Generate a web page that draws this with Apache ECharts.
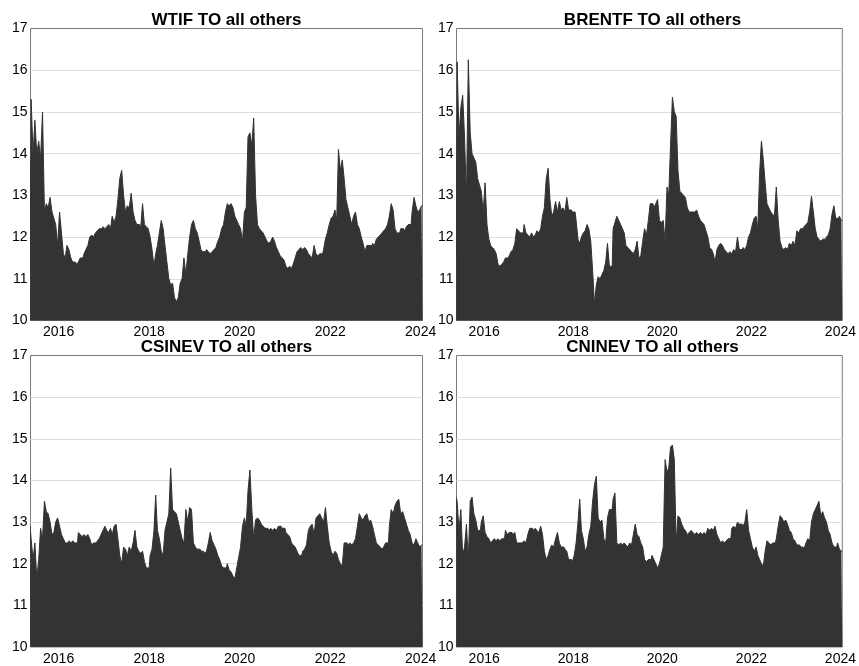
<!DOCTYPE html>
<html><head><meta charset="utf-8">
<script src="https://cdn.jsdelivr.net/npm/echarts@6/dist/echarts.min.js"></script>
<style>html,body{margin:0;padding:0;background:#fff}#c{width:859px;height:666px}</style>
</head><body><div id="c"></div>
<script>
// Semi-monthly observation dates (shared by all four panels)
const dates = [
'2015-05-16','2015-06-01','2015-06-16','2015-07-01','2015-07-16','2015-08-01','2015-08-16','2015-09-01','2015-09-16','2015-10-01','2015-10-16','2015-11-01','2015-11-16','2015-12-01','2015-12-16',
'2016-01-01','2016-01-16','2016-02-01','2016-02-16','2016-03-01','2016-03-16','2016-04-01','2016-04-16','2016-05-01','2016-05-16','2016-06-01','2016-06-16','2016-07-01','2016-07-16','2016-08-01','2016-08-16','2016-09-01','2016-09-16','2016-10-01','2016-10-16','2016-11-01','2016-11-16','2016-12-01','2016-12-16',
'2017-01-01','2017-01-16','2017-02-01','2017-02-16','2017-03-01','2017-03-16','2017-04-01','2017-04-16','2017-05-01','2017-05-16','2017-06-01','2017-06-16','2017-07-01','2017-07-16','2017-08-01','2017-08-16','2017-09-01','2017-09-16','2017-10-01','2017-10-16','2017-11-01','2017-11-16','2017-12-01','2017-12-16',
'2018-01-01','2018-01-16','2018-02-01','2018-02-16','2018-03-01','2018-03-16','2018-04-01','2018-04-16','2018-05-01','2018-05-16','2018-06-01','2018-06-16','2018-07-01','2018-07-16','2018-08-01','2018-08-16','2018-09-01','2018-09-16','2018-10-01','2018-10-16','2018-11-01','2018-11-16','2018-12-01','2018-12-16',
'2019-01-01','2019-01-16','2019-02-01','2019-02-16','2019-03-01','2019-03-16','2019-04-01','2019-04-16','2019-05-01','2019-05-16','2019-06-01','2019-06-16','2019-07-01','2019-07-16','2019-08-01','2019-08-16','2019-09-01','2019-09-16','2019-10-01','2019-10-16','2019-11-01','2019-11-16','2019-12-01','2019-12-16',
'2020-01-01','2020-01-16','2020-02-01','2020-02-16','2020-03-01','2020-03-16','2020-04-01','2020-04-16','2020-05-01','2020-05-16','2020-06-01','2020-06-16','2020-07-01','2020-07-16','2020-08-01','2020-08-16','2020-09-01','2020-09-16','2020-10-01','2020-10-16','2020-11-01','2020-11-16','2020-12-01','2020-12-16',
'2021-01-01','2021-01-16','2021-02-01','2021-02-16','2021-03-01','2021-03-16','2021-04-01','2021-04-16','2021-05-01','2021-05-16','2021-06-01','2021-06-16','2021-07-01','2021-07-16','2021-08-01','2021-08-16','2021-09-01','2021-09-16','2021-10-01','2021-10-16','2021-11-01','2021-11-16','2021-12-01','2021-12-16',
'2022-01-01','2022-01-16','2022-02-01','2022-02-16','2022-03-01','2022-03-16','2022-04-01','2022-04-16','2022-05-01','2022-05-16','2022-06-01','2022-06-16','2022-07-01','2022-07-16','2022-08-01','2022-08-16','2022-09-01','2022-09-16','2022-10-01','2022-10-16','2022-11-01','2022-11-16','2022-12-01','2022-12-16',
'2023-01-01','2023-01-16','2023-02-01','2023-02-16','2023-03-01','2023-03-16','2023-04-01','2023-04-16','2023-05-01','2023-05-16','2023-06-01','2023-06-16','2023-07-01','2023-07-16','2023-08-01','2023-08-16','2023-09-01','2023-09-16','2023-10-01','2023-10-16','2023-11-01','2023-11-16','2023-12-01','2023-12-16',
'2024-01-01','2024-01-16'
];

const wtifTo = [
11.3,15.3,14.0,14.8,14.0,14.3,13.9,15.0,12.6,12.8,12.7,12.95,12.6,12.45,12.3,
11.8,12.6,12.1,11.6,11.5,11.8,11.7,11.5,11.4,11.4,11.35,11.4,11.5,11.5,11.6,11.7,11.8,12.0,12.05,12.0,12.1,12.15,12.2,12.2,
12.25,12.2,12.25,12.3,12.2,12.5,12.35,12.5,12.9,13.4,13.6,13.0,12.6,12.75,12.7,13.05,12.6,12.4,12.3,12.3,12.2,12.8,12.3,12.25,
12.2,12.0,11.7,11.3,11.6,11.8,12.1,12.4,12.2,11.8,11.4,11.0,10.85,10.9,10.55,10.45,10.55,10.9,11.0,11.5,11.1,11.6,12.0,12.3,
12.4,12.2,12.1,11.9,11.7,11.65,11.65,11.7,11.65,11.6,11.65,11.7,11.75,11.9,12.0,12.2,12.3,12.6,12.8,12.75,12.8,12.7,12.5,12.4,
12.3,12.2,11.9,12.6,12.7,14.4,14.5,14.2,14.85,13.0,12.3,12.2,12.15,12.1,12.0,11.9,11.85,11.9,12.0,11.9,11.75,11.65,11.55,11.5,
11.45,11.3,11.25,11.3,11.25,11.35,11.5,11.65,11.7,11.75,11.7,11.75,11.7,11.6,11.55,11.5,11.8,11.6,11.55,11.6,11.6,11.7,11.95,12.1,
12.3,12.45,12.5,12.65,12.4,14.1,13.6,13.85,13.4,12.9,12.7,12.5,12.3,12.5,12.6,12.3,12.2,12.0,11.85,11.65,11.8,11.8,11.8,11.85,
11.8,11.95,12.0,12.05,12.1,12.15,12.2,12.3,12.5,12.8,12.65,12.2,12.1,12.1,12.2,12.2,12.15,12.25,12.3,12.3,12.6,12.95,12.75,12.6,
12.65,12.75
];

const brentfTo = [
11.5,16.2,14.4,15.1,15.4,14.4,12.9,16.25,14.5,14.0,13.9,13.8,13.4,13.25,13.1,
12.6,13.3,12.3,11.95,11.8,11.75,11.7,11.6,11.35,11.3,11.35,11.4,11.5,11.5,11.55,11.65,11.7,11.85,12.2,12.15,12.1,12.1,12.3,12.1,
12.05,12.0,12.1,12.0,12.05,12.15,12.1,12.2,12.5,12.7,13.4,13.65,12.9,12.5,12.6,12.85,12.6,12.85,12.65,12.7,12.6,12.95,12.65,12.65,
12.6,12.6,12.4,11.95,11.85,12.0,12.1,12.15,12.3,12.2,11.9,11.2,10.4,10.85,11.05,11.0,11.1,11.2,11.4,11.85,11.3,11.3,12.2,12.35,
12.5,12.4,12.3,12.2,12.1,11.8,11.75,11.7,11.65,11.6,11.7,11.9,11.5,11.55,11.9,12.2,12.05,12.4,12.8,12.8,12.7,12.8,12.9,12.4,
12.35,12.4,11.9,13.2,13.0,14.2,15.35,15.0,14.9,13.6,13.1,13.05,13.0,12.95,12.7,12.6,12.6,12.6,12.6,12.65,12.5,12.4,12.35,12.3,
12.15,12.0,11.75,11.7,11.6,11.4,11.7,11.8,11.85,11.8,11.7,11.65,11.6,11.65,11.6,11.7,11.65,12.0,11.7,11.7,11.75,11.7,11.8,12.0,
12.1,12.3,12.45,12.5,12.2,13.5,14.3,13.85,13.3,12.8,12.7,12.6,12.55,12.5,13.2,12.4,11.9,11.75,11.7,11.75,11.7,11.85,11.8,11.9,
11.8,12.15,12.1,12.2,12.2,12.25,12.3,12.35,12.6,12.98,12.6,12.2,12.0,11.95,11.9,11.95,11.95,12.0,12.05,12.2,12.55,12.75,12.45,12.45,
12.5,12.4
];

const csinevTo = [
12.9,12.6,12.1,12.5,11.65,12.1,12.85,12.6,13.5,13.25,13.2,13.0,12.7,12.75,13.0,
13.1,12.9,12.7,12.6,12.5,12.5,12.55,12.5,12.55,12.5,12.5,12.75,12.7,12.65,12.7,12.65,12.7,12.6,12.45,12.5,12.5,12.55,12.6,12.7,
12.8,12.9,12.8,12.75,12.85,12.7,12.9,12.95,12.6,12.2,12.0,12.4,12.35,12.2,12.4,12.3,12.5,12.8,12.4,12.3,12.25,12.3,12.05,11.9,
11.9,12.2,12.35,12.8,13.65,12.8,12.6,12.3,12.2,12.8,13.0,13.2,14.3,13.3,13.25,13.2,13.0,12.8,12.6,12.5,13.3,13.0,13.35,13.3,
12.5,12.4,12.35,12.35,12.3,12.3,12.25,12.3,12.5,12.75,12.55,12.45,12.35,12.2,12.1,11.95,11.9,11.9,12.0,11.85,11.8,11.7,11.65,11.9,
12.15,12.4,12.9,13.1,12.9,13.75,14.25,13.3,12.6,13.05,13.1,13.05,12.95,12.9,12.85,12.85,12.8,12.85,12.8,12.85,12.8,12.9,12.9,12.85,
12.85,12.75,12.7,12.65,12.5,12.45,12.4,12.3,12.2,12.2,12.3,12.35,12.45,12.8,12.9,12.95,12.7,13.1,13.15,13.2,13.1,13.0,13.35,12.9,
12.5,12.3,12.2,12.3,12.25,12.1,12.0,11.95,12.5,12.5,12.45,12.5,12.45,12.5,12.6,12.9,13.2,13.1,13.05,13.15,13.2,13.0,13.05,12.9,
12.7,12.5,12.45,12.4,12.35,12.4,12.5,12.5,12.9,13.3,13.2,13.4,13.5,13.55,13.2,13.25,13.1,12.95,12.8,12.7,12.5,12.45,12.6,12.5,
12.4,12.45
];

const cninevTo = [
13.6,13.5,12.8,13.3,12.2,12.4,12.95,12.1,13.5,13.6,13.2,13.05,12.8,12.8,13.0,
13.15,12.75,12.65,12.6,12.5,12.55,12.6,12.55,12.6,12.55,12.6,12.6,12.8,12.7,12.75,12.75,12.7,12.75,12.5,12.5,12.5,12.5,12.55,12.5,
12.7,12.85,12.85,12.8,12.85,12.8,12.75,12.9,12.7,12.3,12.1,12.2,12.35,12.45,12.4,12.6,12.75,12.5,12.4,12.4,12.35,12.3,12.1,12.1,
12.05,12.2,12.5,13.0,13.55,12.8,12.6,12.3,12.4,12.7,12.9,13.5,13.9,14.1,13.1,13.0,13.05,12.6,12.5,13.1,13.3,13.3,13.55,13.7,
12.5,12.45,12.5,12.45,12.5,12.45,12.4,12.5,12.45,12.7,12.95,12.7,12.65,12.5,12.4,12.1,12.05,12.1,12.1,12.2,12.1,12.0,11.9,12.0,
12.2,12.4,14.5,14.2,14.3,14.8,14.85,14.5,12.5,13.15,13.1,12.95,12.85,12.8,12.7,12.75,12.8,12.75,12.7,12.75,12.7,12.75,12.7,12.75,
12.7,12.85,12.8,12.85,12.8,12.9,12.7,12.6,12.5,12.55,12.5,12.55,12.6,12.6,12.85,12.9,12.85,13.0,12.95,12.95,12.9,13.0,13.3,12.8,
12.6,12.4,12.3,12.4,12.2,12.1,12.0,11.95,12.3,12.55,12.5,12.45,12.5,12.5,12.6,12.9,13.15,13.1,13.0,13.05,12.95,12.8,12.75,12.6,
12.55,12.45,12.45,12.4,12.4,12.35,12.5,12.6,12.55,13.0,13.2,13.3,13.4,13.5,13.15,13.25,13.1,13.0,12.8,12.7,12.5,12.4,12.4,12.5,
12.35,12.3
];

const panelTitles = ['WTIF TO all others', 'BRENTF TO all others', 'CSINEV TO all others', 'CNINEV TO all others'];
const panelValues = [wtifTo, brentfTo, csinevTo, cninevTo];
const yearTickLabels = ['2016', '2018', '2020', '2022', '2024'];
const axisStart = '2015-05-19';
const axisEnd = '2024-01-16';

const FONT = '"Liberation Sans", Arial, sans-serif';
const chart = echarts.init(document.getElementById('c'), null, { renderer: 'canvas' });

const grids = [
  { left: 30.5, top: 28.5, width: 392, height: 292 },
  { left: 456.5, top: 28.5, width: 392, height: 292 },
  { left: 30.5, top: 355.5, width: 392, height: 292 },
  { left: 456.5, top: 355.5, width: 392, height: 292 }
];
const titleTops = [20.5, 20.5, 347.5, 347.5];

const parseDay = s => { const p = s.split('-').map(Number); return Date.UTC(p[0], p[1] - 1, p[2]); };
const yearTickValues = yearTickLabels.map(y => Date.UTC(+y, 0, 1));

const option = {
  animation: false,
  backgroundColor: '#ffffff',
  title: panelTitles.map((t, k) => ({
    text: t,
    left: grids[k].left + grids[k].width / 2,
    top: titleTops[k],
    textAlign: 'center',
    textVerticalAlign: 'middle',
    padding: 0,
    textStyle: { fontSize: 17, fontWeight: 'bold', color: '#000', fontFamily: FONT }
  })),
  grid: grids.map(g => Object.assign({ show: true, borderColor: '#7a7a7a', borderWidth: 1, backgroundColor: 'transparent', containLabel: false }, g)),
  xAxis: grids.map((g, k) => ({
    type: 'value',
    gridIndex: k,
    min: parseDay(axisStart),
    max: parseDay(axisEnd),
    axisLine: { show: false },
    axisTick: { show: false },
    splitLine: { show: false },
    axisLabel: {
      customValues: yearTickValues,
      formatter: v => String(new Date(v).getUTCFullYear()),
      color: '#000', fontSize: 14, margin: 5, fontFamily: FONT, hideOverlap: false
    }
  })),
  yAxis: grids.map((g, k) => ({
    type: 'value',
    gridIndex: k,
    min: 10, max: 17, interval: 1,
    axisLine: { show: false },
    axisTick: { show: false },
    splitLine: { show: true, showMinLine: false, showMaxLine: false, lineStyle: { color: '#dedede', width: 1 } },
    axisLabel: { color: '#000', fontSize: 14, margin: 3, fontFamily: FONT }
  })),
  series: panelValues.map((vals, k) => ({
    type: 'line',
    name: panelTitles[k],
    xAxisIndex: k,
    yAxisIndex: k,
    data: dates.map((d, i) => [parseDay(d), vals[i]]),
    step: 'middle',
    symbol: 'none',
    silent: true,
    lineStyle: { color: '#333333', width: 1 },
    areaStyle: { color: '#333333', opacity: 1, origin: 'start' }
  }))
};
chart.setOption(option);
</script>
</body></html>
